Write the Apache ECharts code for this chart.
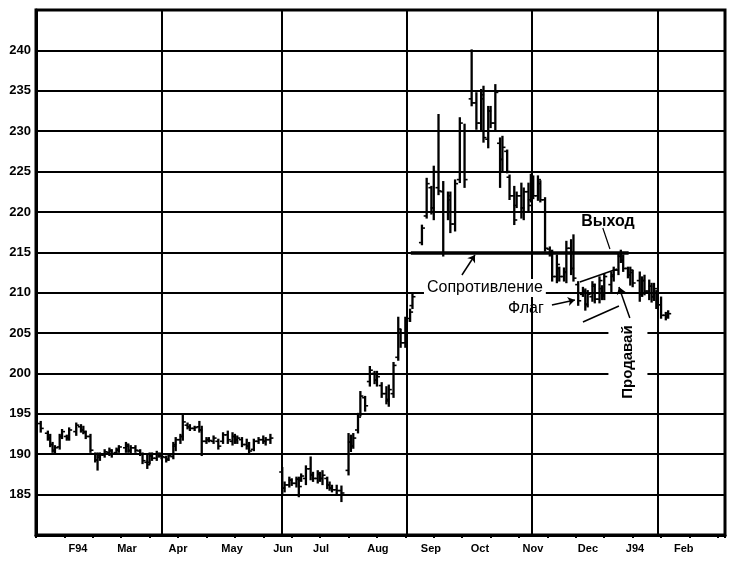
<!DOCTYPE html>
<html><head><meta charset="utf-8">
<script src="https://cdn.jsdelivr.net/npm/echarts@6/dist/echarts.min.js"></script>
<style>html,body{margin:0;padding:0;background:#fff}#c{width:733px;height:564px}</style>
</head><body><div id="c"></div>
<script>
// ---- data (trading-day index, prices) ----
const days = [2,5,6,7,8,10,11,13,14,17,19,20,21,23,25,26,27,29,31,32,34,35,38,39,40,42,44,45,47,48,49,51,52,53,55,56,58,59,61,62,64,65,67,69,70,72,73,75,77,79,81,83,84,85,87,89,90,92,94,96,97,99,
104,105,107,108,110,111,112,114,116,117,119,120,121,123,124,125,127,129,132,133,134,136,137,139,141,143,144,146,148,149,151,153,154,156,158,159,
163,165,167,168,170,172,174,175,177,179,181,184,186,188,189,191,192,194,196,197,199,200,202,203,205,206,208,209,210,212,213,215,217,218,220,221,223,224,226,227,229,231,232,233,235,236,238,239,240,243,244,246,247,248,250,251,252,255,256,257,259,260,261,262,264,266,267];
const highs = [194.0,192.8,192.4,191.4,191.0,192.4,193.0,192.3,193.2,193.8,193.6,193.4,192.8,192.4,190.1,190.1,190.1,190.5,190.7,190.5,190.7,191.0,191.4,191.2,191.0,191.0,190.5,190.1,189.9,190.1,190.1,190.3,190.1,190.1,189.7,189.9,191.4,192.0,192.4,194.9,193.8,193.6,193.4,194.0,193.4,192.0,192.0,192.2,191.8,192.6,192.8,192.6,192.4,192.2,192.0,191.8,191.4,191.8,192.0,192.2,192.0,192.4,
188.3,186.5,187.1,186.9,187.1,187.1,187.5,188.5,189.6,187.7,187.9,187.7,187.9,187.1,186.5,186.1,186.1,186.0,192.5,192.3,192.5,195.0,197.7,197.1,200.8,200.2,200.2,198.8,198.3,198.5,201.3,206.9,205.4,206.9,207.9,209.8,
218.3,224.1,223.1,225.6,232.0,223.7,222.4,222.4,223.9,231.6,230.8,240.0,234.7,235.1,235.5,233.0,233.0,235.7,229.1,229.3,227.6,224.5,223.1,222.4,223.5,222.9,223.5,224.6,224.4,224.4,223.8,221.7,215.6,215.2,214.6,213.1,213.0,216.3,216.5,217.1,211.3,210.6,210.4,210.2,211.3,211.0,211.9,210.8,212.3,212.5,213.1,214.8,215.2,214.6,213.1,213.1,212.7,212.5,211.9,212.1,211.5,211.1,211.1,210.2,209.4,207.5,207.7];
const lows = [192.8,191.8,191.0,190.3,190.1,190.7,192.0,191.8,191.8,192.4,192.8,192.6,192.0,190.3,189.1,188.1,189.3,189.7,189.9,189.7,190.1,190.3,190.3,190.3,190.1,190.3,189.9,188.9,188.3,188.9,189.3,189.3,189.7,189.5,189.1,189.3,189.5,190.5,191.4,191.8,193.2,193.0,193.0,192.8,189.9,191.4,191.6,191.4,190.7,191.4,191.4,191.2,191.4,191.4,191.0,190.7,190.1,190.5,191.4,191.4,191.2,191.4,
185.2,185.4,186.0,186.2,186.0,184.8,186.7,186.3,186.9,186.7,186.5,186.7,186.3,185.8,185.6,185.4,185.2,184.2,187.5,190.4,190.8,192.7,194.8,195.4,198.5,198.8,198.5,197.1,196.3,196.0,197.1,201.7,203.3,203.3,206.5,208.1,
216.0,219.3,219.8,219.1,222.2,214.6,219.1,217.5,217.7,223.7,223.1,233.2,230.3,230.1,228.7,228.0,230.5,230.1,223.1,225.1,224.9,221.6,218.5,220.6,219.3,219.1,220.2,221.3,221.7,221.5,221.3,215.2,214.6,211.5,211.3,211.5,211.5,211.3,212.3,211.5,208.5,209.6,207.9,208.3,209.0,208.8,208.8,209.2,209.2,210.2,211.5,212.3,213.8,212.7,211.9,211.0,210.8,209.0,209.6,209.8,209.2,208.9,209.1,208.1,206.9,206.7,206.9];
const opens = [193.8,192.6,192.0,191.2,190.4,190.9,192.2,192.2,192.0,192.8,193.4,193.0,192.7,192.2,190.0,189.3,189.6,189.9,190.2,190.4,190.2,190.5,190.8,191.0,190.4,190.8,190.4,190.0,189.0,189.0,189.8,189.5,190.0,189.8,189.6,189.4,189.7,191.0,191.8,192.2,193.6,193.4,193.2,193.4,193.0,191.6,191.8,191.6,191.6,191.6,192.4,191.6,192.2,191.8,191.8,191.2,191.0,190.6,191.6,191.8,191.6,191.8,
187.8,185.8,186.2,186.8,186.4,186.9,186.8,187.0,188.2,187.4,187.0,187.5,187.0,187.0,186.2,185.8,185.6,185.5,188.0,191.5,191.0,193.0,195.0,197.0,199.0,200.0,199.2,198.5,197.5,196.6,197.5,202.0,205.0,203.8,206.8,208.4,
216.2,219.5,223.0,220.5,223.0,222.5,220.0,221.5,218.5,224.0,230.0,234.0,233.5,231.0,234.0,229.0,232.5,231.0,228.5,226.5,227.5,224.3,222.0,220.8,222.0,220.5,222.5,221.5,224.0,222.0,223.5,221.5,215.4,214.8,212.0,213.0,212.0,212.5,215.5,213.0,211.0,209.8,210.0,208.6,209.5,210.8,209.2,210.5,209.8,211.0,212.0,212.8,214.5,214.0,213.0,212.2,212.5,211.5,209.8,211.5,210.2,210.8,209.5,210.0,208.5,207.2,207.0];
const closes = [193.2,192.0,191.2,190.5,190.8,192.2,192.8,192.0,193.0,193.6,193.0,192.8,192.2,190.5,189.3,189.8,189.9,190.3,190.5,190.0,190.6,190.9,191.2,190.5,190.8,190.5,190.0,189.2,188.7,189.8,189.5,190.0,189.8,189.7,189.3,189.8,191.2,191.8,192.2,194.0,193.4,193.2,193.3,193.0,191.6,191.8,191.7,192.0,191.0,192.4,191.8,192.2,191.8,192.0,191.2,191.0,190.4,191.6,191.8,191.6,191.8,192.0,
185.8,186.2,186.8,186.4,186.9,186.0,187.3,188.2,187.5,187.0,187.6,187.0,187.4,186.2,185.8,185.6,185.5,185.2,191.5,191.0,192.0,194.6,197.2,196.0,200.4,199.2,199.6,197.5,196.8,198.0,201.0,205.5,203.8,206.5,207.6,209.5,
218.0,223.5,220.5,225.0,222.6,220.0,222.0,218.5,223.5,231.0,224.0,233.5,231.0,234.5,229.2,232.5,231.0,234.8,226.5,228.0,225.0,222.0,219.0,222.0,220.5,222.5,220.8,224.0,222.0,224.0,221.5,215.5,214.8,212.0,213.5,212.0,212.6,215.5,213.0,211.8,209.0,210.2,208.5,209.8,211.0,209.2,211.5,209.6,212.0,212.2,212.8,214.5,214.0,213.0,212.2,212.8,211.2,209.8,211.5,210.2,210.8,209.5,210.5,208.5,207.2,207.0,207.4];

const monthLabels = ['F94','Mar','Apr','May','Jun','Jul','Aug','Sep','Oct','Nov','Dec','J94','Feb'];
const monthLabelDays = [17.7,38.4,60.0,82.8,104.3,120.4,144.4,166.8,187.5,209.9,233.1,253.0,273.6];
const verticalGridDays = [53.1,103.8,156.5,209.3,262.8];
const resistanceLevel = 215;

// ---- chart ----
const ohlc = days.map((d,i)=>[d, opens[i], highs[i], lows[i], closes[i]]);

function renderBar(params, api){
  const x = api.value(0);
  const o = api.coord([x, api.value(1)]);
  const h = api.coord([x, api.value(2)]);
  const l = api.coord([x, api.value(3)]);
  const c = api.coord([x, api.value(4)]);
  const st = {stroke:'#000', lineWidth:2.3};
  return {type:'group', children:[
    {type:'line', shape:{x1:h[0], y1:h[1]-1, x2:l[0], y2:l[1]+1}, style:st},
    {type:'line', shape:{x1:o[0]-3, y1:o[1], x2:o[0], y2:o[1]}, style:{stroke:'#000', lineWidth:1.6}},
    {type:'line', shape:{x1:c[0], y1:c[1], x2:c[0]+3, y2:c[1]}, style:{stroke:'#000', lineWidth:1.6}}
  ]};
}

const blk = '#000';
const lineItem = (a,b,style,endSym)=>[
  {coord:a, symbol:'none', lineStyle:style},
  {coord:b, symbol:endSym||'none', lineStyle:style}
];
const txt = (pos, text, lab)=>({coord:pos, symbol:'rect', symbolSize:1, itemStyle:{color:'rgba(0,0,0,0)'},
  label:Object.assign({show:true, position:'inside', formatter:text, color:'#000', fontFamily:'Liberation Sans', fontSize:16}, lab)});

const chart = echarts.init(document.getElementById('c'), null, {renderer:'canvas'});
chart.setOption({
  animation:false,
  backgroundColor:'#fff',
  grid:{left:36, right:8, top:10, bottom:29, show:true, borderColor:blk, borderWidth:3, backgroundColor:'#fff'},
  xAxis:{
    type:'value', min:0, max:291, interval:12,
    axisLine:{show:true, onZero:false, lineStyle:{color:blk, width:3}},
    axisTick:{show:true, length:3, lineStyle:{color:blk, width:2}},
    splitLine:{show:false},
    axisLabel:{customValues:monthLabelDays, formatter:(v)=>{const i=monthLabelDays.indexOf(v); return i>=0?monthLabels[i]:'';},
      color:blk, fontWeight:'bold', fontSize:11, fontFamily:'Liberation Sans', margin:8}
  },
  yAxis:{
    type:'value', min:180, max:245, interval:5,
    axisLine:{show:true, lineStyle:{color:blk, width:3}},
    axisTick:{show:false},
    splitLine:{show:true, lineStyle:{color:blk, width:2}},
    axisLabel:{formatter:(v)=> (v<185||v>240)?'':String(v), color:blk, fontWeight:'bold', fontSize:13, fontFamily:'Liberation Sans', margin:5}
  },
  series:[
    {type:'custom', renderItem:renderBar, data:ohlc, encode:{x:0, y:[1,2,3,4]}, z:3, silent:true, clip:true},
    {type:'line', data:[], silent:true, z:4,
      markLine:{silent:true, symbol:['none','none'], label:{show:false}, animation:false,
        lineStyle:{color:blk, width:2, type:'solid'},
        data:[
          ...verticalGridDays.map(d=>({xAxis:d, lineStyle:{color:blk, width:2, type:'solid'}})),
          lineItem([158.3,resistanceLevel],[250.3,resistanceLevel],{color:blk, width:3.5, type:'solid'}),
          lineItem([179.9,212.19],[185.4,214.67],{color:blk, width:1.5, type:'solid'},'arrow'),
          lineItem([217.9,208.48],[227.6,209.09],{color:blk, width:1.5, type:'solid'},'arrow'),
          lineItem([229.7,211.32],[245.4,212.93],{color:blk, width:1.5, type:'solid'}),
          lineItem([231.0,206.37],[246.2,208.35],{color:blk, width:1.5, type:'solid'}),
          lineItem([239.4,218.01],[242.4,215.41],{color:blk, width:1.2, type:'solid', curveness:0.3}),
          lineItem([250.8,206.87],[246.2,210.70],{color:blk, width:1.5, type:'solid', curveness:-0.4},'arrow')
        ],
        symbolSize:7
      },
      markPoint:{silent:true, animation:false,
        data:[
          txt([189.6,210.58],'Сопротивление',{backgroundColor:'#fff', padding:[1,3]}),
          txt([206.9,207.98],'Флаг',{}),
          txt([241.6,218.75],'Выход',{fontWeight:'bold'}),
          txt([250.0,201.42],'Продавай',{fontWeight:'bold', fontSize:15, rotate:90, backgroundColor:'#fff', padding:[12,2]})
        ]
      }
    }
  ]
});
</script>
</body></html>
